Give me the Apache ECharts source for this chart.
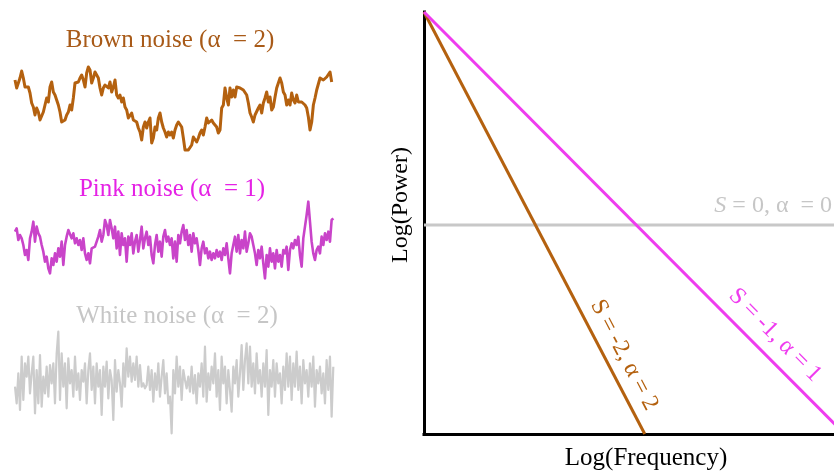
<!DOCTYPE html>
<html><head><meta charset="utf-8">
<script src="https://cdn.jsdelivr.net/npm/echarts@6/dist/echarts.min.js"></script>
<style>html,body{margin:0;padding:0;background:#fff}#c{width:834px;height:473px}</style>
</head><body><div id="c"></div>
<script>
// Time series (arbitrary amplitude units, higher = up)
const brownNoise = [
80,72,77,82,89,82,73,72,73,67,57,53,45,52,48,40,42,48,55,62,
58,73,78,68,65,60,55,48,38,37,40,45,48,55,50,62,77,75,78,82,
85,80,73,87,93,90,77,82,88,90,82,72,65,72,75,77,72,78,68,73,
80,65,62,65,58,62,53,50,42,43,47,40,42,38,32,28,20,33,38,32,
38,42,17,22,33,30,42,47,38,32,28,23,28,
25,28,22,30,35,38,38,33,22,10,12,10,12,15,23,25,18,22,27,30,
25,33,42,37,38,40,37,38,33,27,30,52,55,72,62,55,72,63,70,63,
73,75,72,73,70,68,65,57,47,43,38,45,43,52,55,47,57,62,68,58,
63,50,53,63,72,73,82,77,68,65,55,60,55,67,60,57,65,58,57,58,
60,55,52,43,30,38,55,62,70,72,82,83,80,82,83,85,88,78
];
const pinkNoise = [
140,150,115,130,120,100,70,85,55,120,140,170,110,155,135,125,100,80,50,65,
30,15,60,40,75,50,90,65,110,40,100,125,145,150,120,135,105,120,100,115,
85,120,75,55,75,45,90,85,95,100,125,145,110,130,175,160,130,175,150,120,
155,90,140,70,135,100,120,50,125,100,135,75,110,130,80,115,155,90,120,140,
100,125,70,45,100,130,80,110,65,125,145,110,125,
100,120,60,110,50,130,105,140,160,115,145,100,130,80,135,105,120,85,40,90,
110,75,90,60,80,55,75,60,85,65,80,55,90,70,105,60,15,75,100,125,
80,130,75,115,90,140,80,105,135,125,100,75,40,85,60,95,45,0,70,35,
90,50,75,30,85,50,70,35,85,75,95,25,85,105,90,115,100,125,70,35,
120,155,190,230,170,110,75,55,85,95,75,125,100,135,115,140,110,175,180
];
const whiteNoise = [
100,50,140,30,190,60,170,130,190,80,140,190,20,150,50,195,40,130,80,160,
70,165,110,170,50,200,265,60,200,100,170,35,185,110,150,70,190,90,140,60,
150,115,170,50,150,200,90,160,50,170,100,150,15,160,100,175,65,150,120,0,
180,85,150,110,40,170,100,215,130,190,115,170,120,190,100,165,100,110,95,105,
160,90,150,55,140,90,170,70,130,180,80,140,50,
70,-40,150,80,190,100,160,60,150,120,95,130,85,160,80,135,50,140,100,170,
70,220,55,140,90,160,110,200,70,150,30,190,110,160,50,150,90,25,160,110,
180,70,140,225,90,180,230,110,220,100,170,80,200,110,150,70,170,100,210,15,
150,100,180,70,170,110,140,50,160,90,200,100,190,60,170,100,205,90,160,50,
180,110,150,70,170,100,190,40,150,110,160,80,140,50,180,90,190,10,160
];
// Spectra (log-log), endpoints
const brownLogFreq = [0, 2.1];
const brownLogPower = [4, 0];
const pinkLogFreq = [0, 4];
const pinkLogPower = [4, 0];
const whiteLogFreq = [0, 4];
const whiteLogPower = [1.98, 1.98];

const noiseTitles = ['Brown noise (α  = 2)', 'Pink noise (α  = 1)', 'White noise (α  = 2)'];
const spectrumLabels = ['S = -2, α = 2', 'S = -1, α = 1', '{i|S} = 0, α  = 0'];
const axisNames = ['Log(Frequency)', 'Log(Power)'];

const FONT = '"Liberation Serif", "Times New Roman", serif';
const C = {
  brownLine: '#b4610f', brownText: '#a85a18',
  pinkLine: '#c944c9', pinkText: '#e522e5', pinkSpec: '#ef3cef',
  whiteLine: '#cccccc', whiteText: '#c6c6c6', whiteSpec: '#c8c8c8'
};

const idx = a => a.map((_, i) => i);
const zip = (xs, ys) => xs.map((x, i) => [x, ys[i]]);
const hiddenCat = (gi, data) => ({gridIndex: gi, type: 'category', data, boundaryGap: false, show: false});
const hiddenVal = (gi, min, max) => ({gridIndex: gi, type: 'value', min, max, show: false});
const noiseSeries = (gi, data, color, w) => ({
  type: 'line', xAxisIndex: gi, yAxisIndex: gi, data, symbol: 'none', silent: true,
  lineStyle: {color, width: w, join: 'round'}, animation: false
});
const specSeries = (xs, ys, color) => ({
  type: 'line', xAxisIndex: 3, yAxisIndex: 3, data: zip(xs, ys), symbol: 'none', silent: true,
  lineStyle: {color, width: 3}, animation: false, z: 1
});
const axisStyle = {show: true, onZero: false, lineStyle: {color: '#000', width: 3, cap: 'square'}};
const txt = (x, y, text, color, size, rot, align) => ({
  type: 'text', x, y, rotation: rot || 0, silent: true,
  style: {text, fill: color, fontFamily: FONT, fontSize: size, align: align || 'center', verticalAlign: 'middle',
    rich: {i: {fontStyle: 'italic', fontFamily: FONT, fontSize: size, fill: color}}}
});

const chart = echarts.init(document.getElementById('c'), null, {renderer: 'canvas'});
chart.setOption({
  animation: false,
  grid: [
    {left: 15, top: 60, width: 316.7, height: 95},
    {left: 15, top: 195, width: 318.3, height: 90},
    {left: 15, top: 320, width: 318.3, height: 120},
    {left: 424, top: 12, right: 0, height: 422}
  ],
  xAxis: [
    hiddenCat(0, idx(brownNoise)),
    hiddenCat(1, idx(pinkNoise)),
    hiddenCat(2, idx(whiteNoise)),
    {gridIndex: 3, type: 'value', min: 0, max: 3.9, axisLine: axisStyle, axisTick: {show: false},
     axisLabel: {show: false}, splitLine: {show: false}}
  ],
  yAxis: [
    hiddenVal(0, 5, 100),
    hiddenVal(1, -20, 250),
    hiddenVal(2, -60, 300),
    {gridIndex: 3, type: 'value', min: 0, max: 4, axisLine: axisStyle, axisTick: {show: false},
     axisLabel: {show: false}, splitLine: {show: false}}
  ],
  series: [
    noiseSeries(0, brownNoise, C.brownLine, 3),
    noiseSeries(1, pinkNoise, C.pinkLine, 2.6),
    noiseSeries(2, whiteNoise, C.whiteLine, 2.2),
    specSeries(whiteLogFreq, whiteLogPower, C.whiteSpec),
    specSeries(brownLogFreq, brownLogPower, C.brownLine),
    specSeries(pinkLogFreq, pinkLogPower, C.pinkSpec)
  ],
  graphic: [
    txt(170, 40, noiseTitles[0], C.brownText, 25),
    txt(172, 189, noiseTitles[1], C.pinkText, 25),
    txt(177, 316, noiseTitles[2], C.whiteText, 25),
    txt(624, 355, spectrumLabels[0], C.brownLine, 24, -1.089),
    txt(775, 335, spectrumLabels[1], C.pinkSpec, 24, -0.79),
    txt(832, 206, spectrumLabels[2], C.whiteText, 24, 0, 'right'),
    txt(646, 458, axisNames[0], '#000', 25),
    txt(401, 205, axisNames[1], '#000', 24, Math.PI / 2)
  ]
});
</script></body></html>
